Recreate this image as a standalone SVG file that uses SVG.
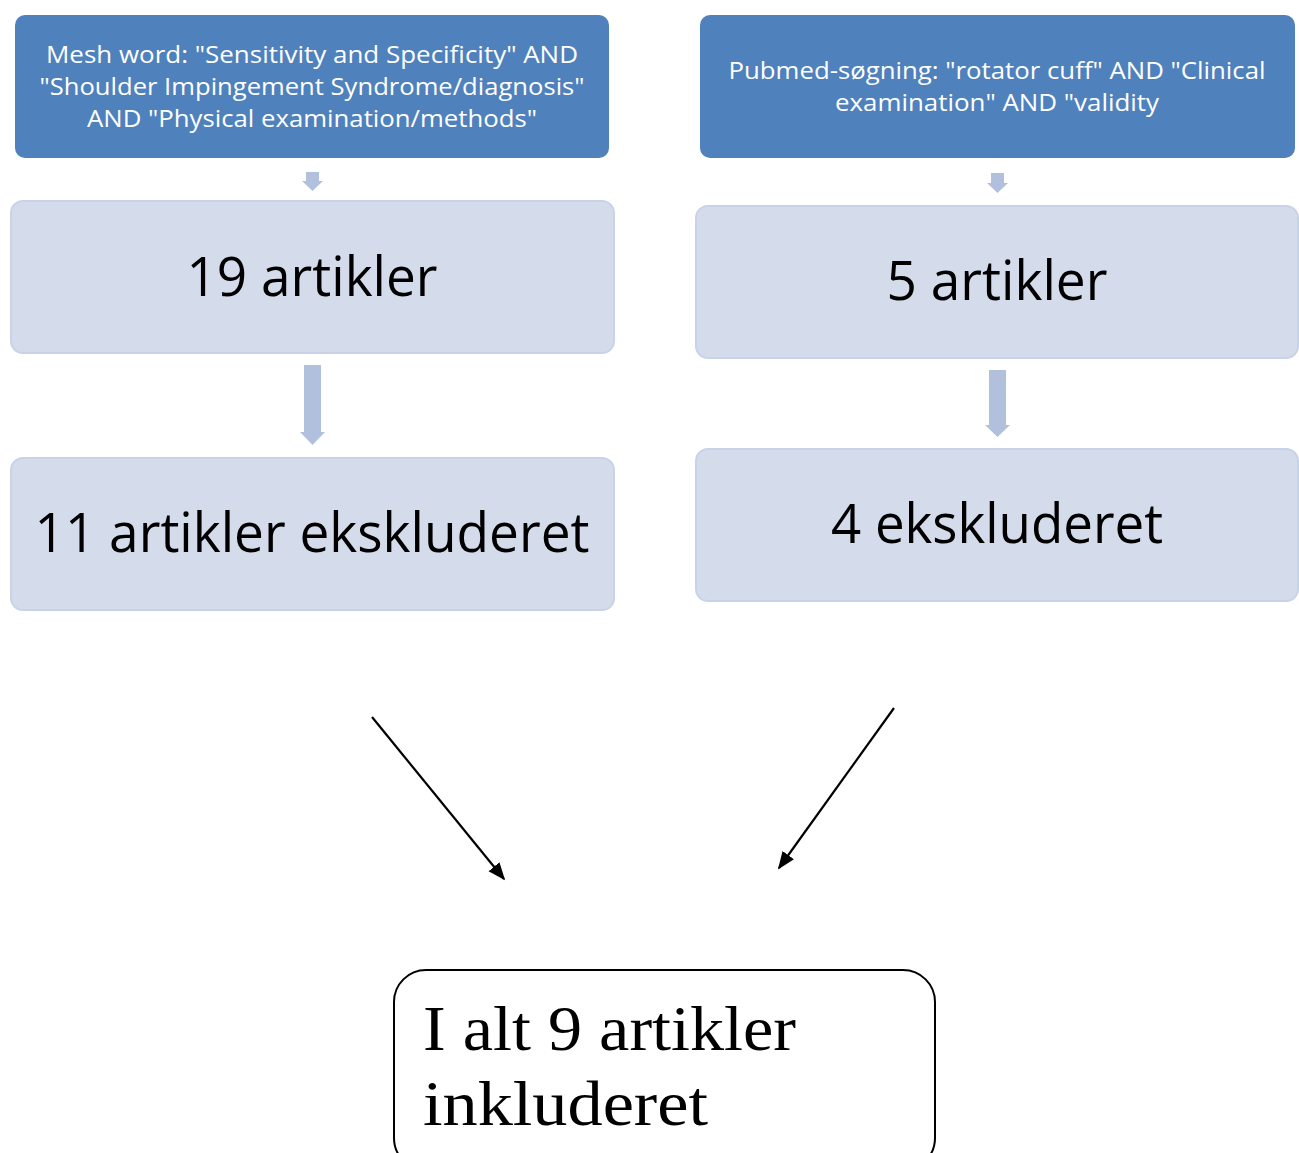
<svg xmlns="http://www.w3.org/2000/svg" width="1299" height="1153" viewBox="0 0 1299 1153">
<style>
.dark{fill:#4f81bd;}
.light{fill:#d4dcec;stroke:#c8d3e8;stroke-width:2;}
.t1{font-family:"Open Sans","Noto Sans",sans-serif;font-size:24px;fill:#ffffff;text-anchor:middle;}
.t2{font-family:"Open Sans","Noto Sans",sans-serif;font-size:54px;fill:#000000;text-anchor:middle;}
.t3{font-family:"Liberation Serif","DejaVu Serif",serif;font-size:64px;fill:#000000;}
.ba{fill:#b1c1dd;}
.ln{stroke:#000;stroke-width:2.2;fill:none;marker-end:url(#ah);}
</style>
<defs>
<marker id="ah" viewBox="0 0 10 10" refX="9" refY="5" markerWidth="8" markerHeight="8" orient="auto" markerUnits="strokeWidth">
<path d="M0,1 L10,5 L0,9 Z" fill="#000"/>
</marker>
</defs>
<g id="n1">
<rect class="dark" x="15" y="15" width="594" height="143" rx="10"/>
<text class="t1" x="312" y="63" textLength="532" lengthAdjust="spacingAndGlyphs">Mesh word: "Sensitivity and Specificity" AND</text>
<text class="t1" x="312" y="95" textLength="545" lengthAdjust="spacingAndGlyphs">"Shoulder Impingement Syndrome/diagnosis"</text>
<text class="t1" x="312" y="127" textLength="450" lengthAdjust="spacingAndGlyphs">AND "Physical examination/methods"</text>
</g>
<g id="n2">
<rect class="dark" x="700" y="15" width="595" height="143" rx="10"/>
<text class="t1" x="997" y="79" textLength="537" lengthAdjust="spacingAndGlyphs">Pubmed-søgning: "rotator cuff" AND "Clinical</text>
<text class="t1" x="997" y="111" textLength="324" lengthAdjust="spacingAndGlyphs">examination" AND "validity</text>
</g>
<g id="n3">
<rect class="light" x="11" y="201" width="603" height="152" rx="12"/>
<text class="t2" x="312" y="296" textLength="251" lengthAdjust="spacingAndGlyphs">19 artikler</text>
</g>
<g id="n4">
<rect class="light" x="11" y="458" width="603" height="152" rx="12"/>
<text class="t2" x="312" y="552" textLength="555" lengthAdjust="spacingAndGlyphs">11 artikler ekskluderet</text>
</g>
<g id="n5">
<rect class="light" x="696" y="206" width="602" height="152" rx="12"/>
<text class="t2" x="997" y="300" textLength="221" lengthAdjust="spacingAndGlyphs">5 artikler</text>
</g>
<g id="n6">
<rect class="light" x="696" y="449" width="602" height="152" rx="12"/>
<text class="t2" x="997" y="543" textLength="332" lengthAdjust="spacingAndGlyphs">4 ekskluderet</text>
</g>
<g id="n7">
<rect x="394" y="970" width="541" height="200" rx="32" fill="#ffffff" stroke="#000" stroke-width="2"/>
<text class="t3" x="423" y="1050" textLength="373" lengthAdjust="spacingAndGlyphs">I alt 9 artikler</text>
<text class="t3" x="423" y="1125" textLength="285" lengthAdjust="spacingAndGlyphs">inkluderet</text>
</g>
<g id="connectors">
<path class="ba" d="M306,172 H319 V181 H323 L312.5,191 L302,181 H306 Z"/>
<path class="ba" d="M991,173 H1004 V183 H1008 L997.5,193 L987,183 H991 Z"/>
<path class="ba" d="M304,365 H321 V432 H325 L312.5,445 L300,432 H304 Z"/>
<path class="ba" d="M989,370 H1006 V425 H1010 L997.5,437 L985,425 H989 Z"/>
<line class="ln" x1="372" y1="717" x2="504" y2="879"/>
<line class="ln" x1="894" y1="708" x2="779" y2="868"/>
</g>
</svg>
